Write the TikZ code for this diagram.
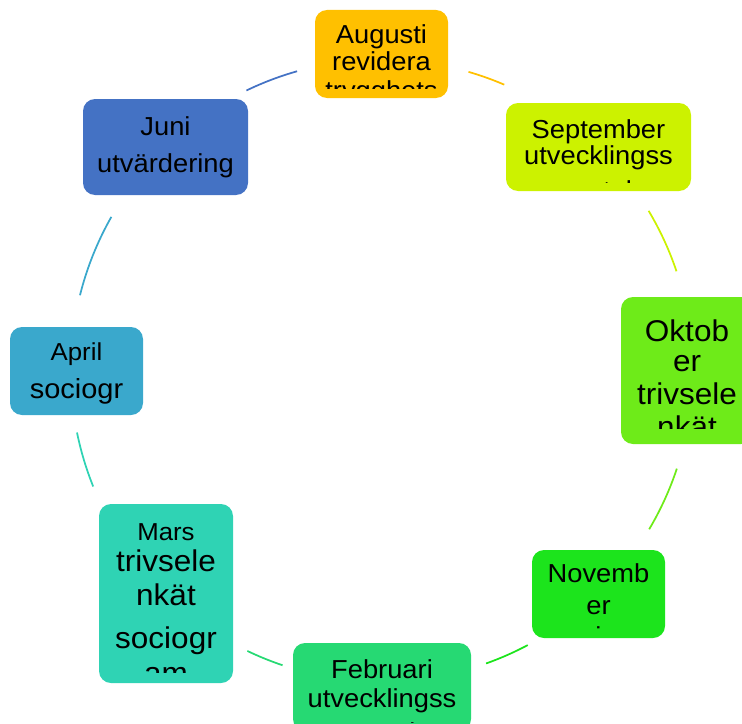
\documentclass[tikz,border=0pt]{standalone}
\usepackage{fontspec}
\setmainfont{Liberation Sans}[FakeStretch=1.05]
\usetikzlibrary{calc}

\definecolor{augcol}{RGB}{255,192,0}
\definecolor{sepcol}{RGB}{204,242,0}
\definecolor{oktcol}{RGB}{110,235,25}
\definecolor{novcol}{RGB}{28,228,28}
\definecolor{febcol}{RGB}{38,217,115}
\definecolor{marcol}{RGB}{47,211,180}
\definecolor{aprcol}{RGB}{58,168,204}
\definecolor{juncol}{RGB}{68,114,196}

\tikzset{
  monthbox/.style={draw=none, rounded corners=9pt, inner sep=0pt},
  monthtext/.style={anchor=base, inner sep=0pt, text=black},
  txtsmall/.style={font=\fontsize{18.4}{22}\selectfont},
  txtmid/.style={font=\fontsize{19.5}{23}\selectfont},
  txtsoc/.style={font=\fontsize{20.7}{24}\selectfont},
  txtbig/.style={font=\fontsize{22.5}{26}\selectfont},
  cycleline/.style={line width=1.3pt},
}

\begin{document}
\begin{tikzpicture}[x=0.75pt,y=0.75pt,yscale=-1,xscale=1]
\clip (0,0) rectangle (742,724);
\coordinate (c) at (381.75,370.5);

%Curve Lines
\draw [cycleline, draw=juncol] ($(c)+(-115.8:311)$) arc (-115.8:-105.8:311);
\draw [cycleline, draw=augcol] ($(c)+(-73.8:311)$) arc (-73.8:-66.8:311);
\draw [cycleline, draw=sepcol] ($(c)+(-30.9:311)$) arc (-30.9:-18.6:311);
\draw [cycleline, draw=oktcol] ($(c)+(18.4:311)$) arc (18.4:30.7:311);
\draw [cycleline, draw=novcol] ($(c)+(62:311)$) arc (62:70.4:311);
\draw [cycleline, draw=febcol] ($(c)+(108.6:311)$) arc (108.6:115.6:311);
\draw [cycleline, draw=marcol] ($(c)+(158.1:311)$) arc (158.1:168.5:311);
\draw [cycleline, draw=aprcol] ($(c)+(194:311)$) arc (194:209.6:311);

%Shape: Rounded Rect
\node (aug) [monthbox, fill=augcol, minimum width=133*0.75pt, minimum height=88*0.75pt] at (381.5,54) {};
\node (sep) [monthbox, fill=sepcol, minimum width=185*0.75pt, minimum height=88*0.75pt] at (598.5,147) {};
\node (okt) [monthbox, fill=oktcol, minimum width=132*0.75pt, minimum height=147*0.75pt] at (687,370.5) {};
\node (nov) [monthbox, fill=novcol, minimum width=133*0.75pt, minimum height=88*0.75pt] at (598.5,594) {};
\node (feb) [monthbox, fill=febcol, minimum width=178*0.75pt, minimum height=88*0.75pt] at (382,687) {};
\node (mar) [monthbox, fill=marcol, minimum width=134*0.75pt, minimum height=179*0.75pt] at (166,593.5) {};
\node (apr) [monthbox, fill=aprcol, minimum width=133*0.75pt, minimum height=88*0.75pt] at (76.5,371) {};
\node (jun) [monthbox, fill=juncol, minimum width=165*0.75pt, minimum height=96*0.75pt] at (165.5,147) {};

% Text Node
\begin{scope}
\clip (aug.north west) rectangle ($(aug.south east)+(0,-10)$);
\node (aug-1) [monthtext, txtmid] at (381.5,44) {Augusti};
\node (aug-2) [monthtext, txtmid] at (381.5,70.5) {revidera};
\node (aug-3) [monthtext, txtmid] at (381.5,99) {trygghets};
\end{scope}
% Text Node
\begin{scope}
\clip (sep.north west) rectangle ($(sep.south east)+(0,-9)$);
\node (sep-1) [monthtext, txtmid] at (598.5,138) {September};
\node (sep-2) [monthtext, txtmid] at (598.5,164) {utvecklingss};
\node (sep-3) [monthtext, txtmid] at (598.5,199) {amtal};
\end{scope}
% Text Node
\begin{scope}
\clip (okt.north west) rectangle ($(okt.south east)+(0,-16)$);
\node (okt-1) [monthtext, txtbig] at (687,341) {Oktob};
\node (okt-2) [monthtext, txtbig] at (687,371) {er};
\node (okt-3) [monthtext, txtbig] at (687,404) {trivsele};
\node (okt-4) [monthtext, txtbig] at (687,437) {nkät};
\end{scope}
% Text Node
\begin{scope}
\clip (nov.north west) rectangle ($(nov.south east)+(0,-10)$);
\node (nov-1) [monthtext, txtmid] at (598.5,582) {Novemb};
\node (nov-2) [monthtext, txtmid] at (598.5,614) {er};
\node (nov-3) [monthtext, txtmid] at (598.5,645) {i};
\end{scope}
% Text Node
\begin{scope}
\clip (feb.north west) rectangle ($(feb.south east)+(0,-9)$);
\node (feb-1) [monthtext, txtmid] at (382,678) {Februari};
\node (feb-2) [monthtext, txtmid] at (382,707) {utvecklingss};
\node (feb-3) [monthtext, txtmid] at (382,741) {amtal};
\end{scope}
% Text Node
\begin{scope}
\clip (mar.north west) rectangle ($(mar.south east)+(0,-11)$);
\node (mar-1) [monthtext, txtsmall] at (166,540) {Mars};
\node (mar-2) [monthtext, txtbig] at (166,571) {trivsele};
\node (mar-3) [monthtext, txtbig] at (166,605) {nkät};
\node (mar-4) [monthtext, txtbig] at (166,648) {sociogr};
\node (mar-5) [monthtext, txtbig] at (166,683) {am};
\end{scope}
% Text Node
\node (apr-1) [monthtext, txtsmall] at (76.5,360) {April};
\node (apr-2) [monthtext, txtsoc] at (76.5,398) {sociogr};
% Text Node
\node (jun-1) [monthtext, txtmid] at (165.5,135) {Juni};
\node (jun-2) [monthtext, txtmid] at (165.5,172) {utvärdering};

\end{tikzpicture}
\end{document}
